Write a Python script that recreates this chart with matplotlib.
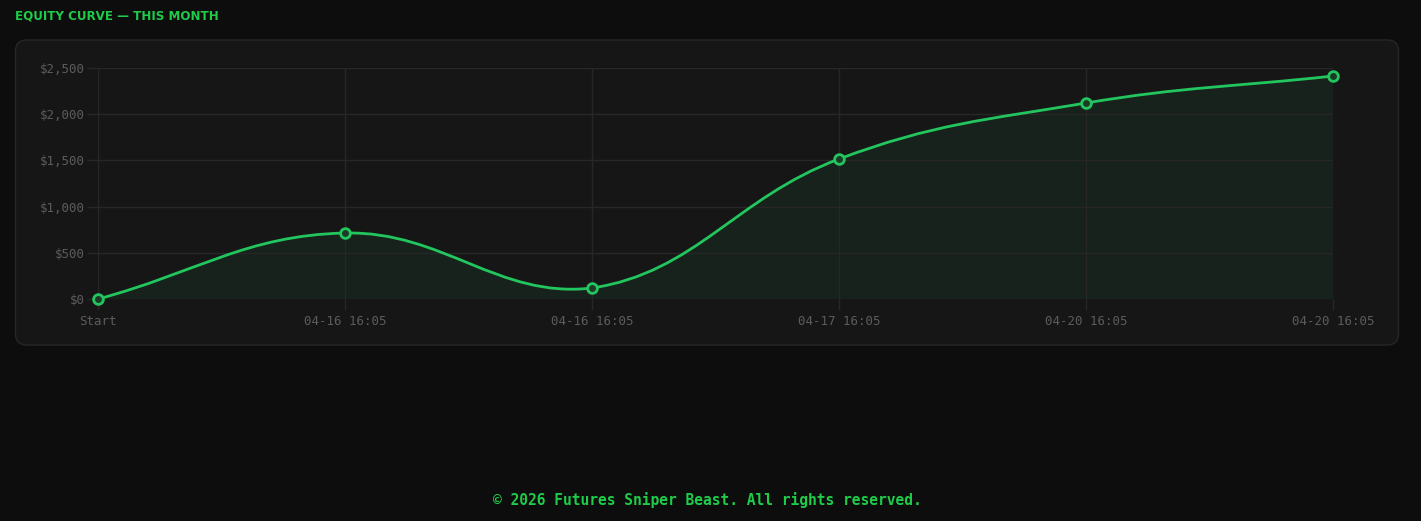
"""Equity curve card, dark theme, Chart.js-like smoothed line."""
import numpy as np
import matplotlib.pyplot as plt
from matplotlib.patches import FancyBboxPatch, PathPatch
from matplotlib.path import Path

# data
labels = ['Start', '04-16 16:05', '04-16 16:05', '04-17 16:05',
          '04-20 16:05', '04-20 16:05']
equity = [0, 714, 119, 1515, 2121, 2413]
y_ticks = [0, 500, 1000, 1500, 2000, 2500]

BG = '#0d0d0d'
CARD = '#161616'
CARD_EDGE = '#272727'
GRID = '#272727'
TICK_TXT = '#5c5c5c'
GREEN = '#22c55e'
TITLE_GREEN = '#1fcc48'
MONO = ['DejaVu Sans Mono']


def spline_controls(px, py, tension=0.4):
    """Chart.js style control points, computed in pixel space."""
    n = len(px)
    ctrl = []
    for i in range(n):
        p0 = (px[max(i - 1, 0)], py[max(i - 1, 0)])
        p1 = (px[i], py[i])
        p2 = (px[min(i + 1, n - 1)], py[min(i + 1, n - 1)])
        d01 = np.hypot(p1[0] - p0[0], p1[1] - p0[1])
        d12 = np.hypot(p2[0] - p1[0], p2[1] - p1[1])
        tot = d01 + d12
        s01 = d01 / tot if tot else 0
        s12 = d12 / tot if tot else 0
        fa, fb = tension * s01, tension * s12
        prev_c = (p1[0] - fa * (p2[0] - p0[0]), p1[1] - fa * (p2[1] - p0[1]))
        next_c = (p1[0] + fb * (p2[0] - p0[0]), p1[1] + fb * (p2[1] - p0[1]))
        ctrl.append((prev_c, next_c))
    return ctrl


fig = plt.figure(figsize=(14.21, 5.21), dpi=100, facecolor=BG)

# card behind the chart
card = FancyBboxPatch((15.5, 521 - 345), 1383, 305,
                      boxstyle='round,pad=0,rounding_size=11',
                      transform=None, facecolor=CARD, edgecolor=CARD_EDGE,
                      linewidth=1, zorder=0)
fig.add_artist(card)

ax = fig.add_axes([98 / 1421, (521 - 299) / 521, 1235 / 1421, 231 / 521])
ax.set_facecolor('none')
x = np.arange(len(equity))
ax.set_xlim(0, len(equity) - 1)
ax.set_ylim(0, 2500)

# smoothed path via bezier control points
trans = ax.transData
pix = trans.transform(np.column_stack([x, equity]))
ctrl = spline_controls(pix[:, 0], pix[:, 1])
y_lo, y_hi = trans.transform([(0, 0), (0, 2500)])[:, 1]
verts = [tuple(pix[0])]
codes = [Path.MOVETO]
for i in range(1, len(equity)):
    c1 = ctrl[i - 1][1]
    c2 = ctrl[i][0]
    c1 = (c1[0], min(max(c1[1], y_lo), y_hi))
    c2 = (c2[0], min(max(c2[1], y_lo), y_hi))
    verts += [c1, c2, tuple(pix[i])]
    codes += [Path.CURVE4] * 3
data_verts = trans.inverted().transform(verts)

line_path = Path(data_verts, codes)
fill_verts = list(data_verts) + [(x[-1], 0), (x[0], 0), tuple(data_verts[0])]
fill_codes = codes + [Path.LINETO, Path.LINETO, Path.CLOSEPOLY]
ax.add_patch(PathPatch(Path(fill_verts, fill_codes), facecolor=GREEN,
                       alpha=0.07, edgecolor='none', zorder=1))
ax.add_patch(PathPatch(line_path, facecolor='none', edgecolor=GREEN,
                       linewidth=2, zorder=3))
ax.plot(x, equity, linestyle='none', marker='o', markersize=7,
        markerfacecolor='#1d3a26', markeredgecolor=GREEN,
        markeredgewidth=2, zorder=4, clip_on=False)

ax.set_xticks(x)
ax.set_xticklabels(labels)
ax.set_yticks(y_ticks)
ax.set_yticklabels([f'${v:,}' for v in y_ticks])
ax.grid(True, color=GRID, linewidth=1, zorder=0)
ax.tick_params(length=8, width=1, color=GRID, labelcolor=TICK_TXT,
               labelsize=9)
ax.tick_params(axis='x', pad=3.5)
ax.tick_params(axis='y', pad=1.5)
for lab in ax.get_xticklabels() + ax.get_yticklabels():
    lab.set_family(MONO)
for sp in ax.spines.values():
    sp.set_visible(False)

fig.text(15 / 1421, 1 - 16 / 521, 'EQUITY CURVE — THIS MONTH',
         color=TITLE_GREEN, fontsize=8.6, fontweight='bold', ha='left',
         va='center', family=['DejaVu Sans'])
fig.text(707 / 1421, 1 - 500 / 521,
         '© 2026 Futures Sniper Beast. All rights reserved.',
         color=TITLE_GREEN, fontsize=10.5, fontweight='bold', ha='center',
         va='center', family=MONO)

fig.savefig('out.png', dpi=100, facecolor=BG)
